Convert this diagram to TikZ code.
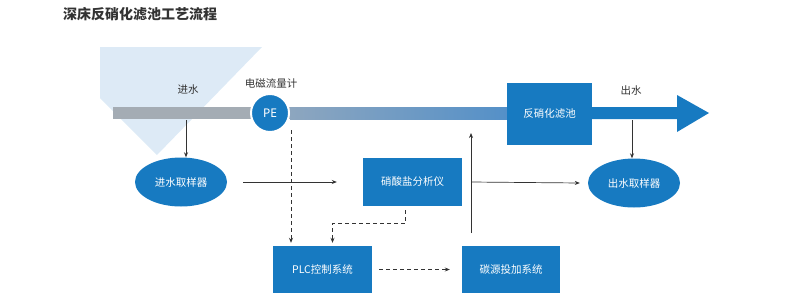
\documentclass[tikz,border=0pt]{standalone}
\usepackage{fontspec}
\newfontfamily\cjk{Noto Sans CJK SC}
\usetikzlibrary{shapes.geometric, arrows.meta, positioning}
\definecolor{pipeblue}{RGB}{23,122,193}
\definecolor{pipegray}{RGB}{164,172,180}
\definecolor{pipemid}{RGB}{141,166,191}
\definecolor{pipeend}{RGB}{84,144,200}
\definecolor{funnel}{RGB}{221,234,246}
\definecolor{ink}{RGB}{51,51,51}

\begin{document}
\begin{tikzpicture}[x=1pt, y=-1pt,
    unit/.style={rectangle, fill=pipeblue, text=white, font=\cjk\fontsize{10.5}{12}\selectfont, inner sep=1pt},
    sampler/.style={ellipse, fill=pipeblue, text=white, font=\cjk\fontsize{10.5}{12}\selectfont, minimum width=92pt, minimum height=49pt, inner sep=0pt},
    lab/.style={font=\cjk\fontsize{10.5}{12}\selectfont, text=ink, inner sep=1pt},
    arr/.style={-{Stealth[length=5pt, width=4pt]}, draw=ink, line width=0.7pt},
    darr/.style={arr, dash pattern=on 4pt off 3pt}]
    \useasboundingbox (0,0) rectangle (800,300);
    % funnel and pipe
    \fill[funnel] (100,47) -- (262,47) -- (157,155) -- (100,98) -- cycle;
    \fill[pipegray] (113,107) rectangle (291,119);
    \shade[left color=pipemid, right color=pipeend] (290,107) rectangle (508,119);
    \fill[pipeblue] (591,107) -- (677,107) -- (677,95) -- (709,113) -- (677,132) -- (677,119) -- (591,119) -- cycle;
    \node[circle, fill=pipeblue, draw=white, line width=2pt, minimum size=38pt, inner sep=0pt, text=white, font=\fontspec{Noto Sans}\fontsize{12}{14}\selectfont] (pe) at (270,113) {PE};
    \coordinate (tapin) at (186,120);
    \coordinate (tapout) at (632,120);
    \coordinate (feed) at (471,133);
    \coordinate (carbonup) at (471,233);
    \coordinate (junction) at (471,182);
    % labels
    \node[font=\cjk\bfseries\fontsize{14}{16}\selectfont, text=ink, anchor=west, inner sep=0pt] (title) at (63,14) {深床反硝化滤池工艺流程};
    \node[lab] (inlet) at (188,90) {进水};
    \node[lab] (meter) at (271,84) {电磁流量计};
    \node[lab] (outlet) at (631,91) {出水};
    % units
    \node[unit, minimum width=85pt, minimum height=62pt] (filter) at (549.5,114) {反硝化滤池};
    \node[unit, minimum width=99pt, minimum height=48pt] (nitrate) at (412.5,182) {硝酸盐分析仪};
    \node[unit, minimum width=99pt, minimum height=47pt] (plc) at (322.5,269.5) {PLC控制系统};
    \node[unit, minimum width=98pt, minimum height=47pt] (carbon) at (511,269.5) {碳源投加系统};
    \node[sampler] (insample) at (181,182) {进水取样器};
    \node[sampler] (outsample) at (634,183) {出水取样器};
    % connectors
    \draw[arr] (tapin) -- (tapin |- insample.north);
    \draw[arr] (tapout) -- (tapout |- outsample.north);
    \draw[arr] ([xshift=16pt]insample.east) -- ([xshift=-26pt]nitrate.west);
    \draw[arr] (carbonup) -- (feed);
    \draw[arr] (junction) -- ([xshift=-8pt]outsample.west);
    \draw[darr] ([xshift=21pt, yshift=3pt]pe.south) -- ([xshift=21pt, yshift=3pt]pe.south |- plc.north);
    \draw[darr] ([xshift=-7pt, yshift=-4pt]nitrate.south) -- ++(0,13) -| ([xshift=10pt, yshift=3pt]plc.north);
    \draw[darr] ([xshift=7pt]plc.east) -- ([xshift=-12pt]carbon.west);
\end{tikzpicture}
\end{document}
